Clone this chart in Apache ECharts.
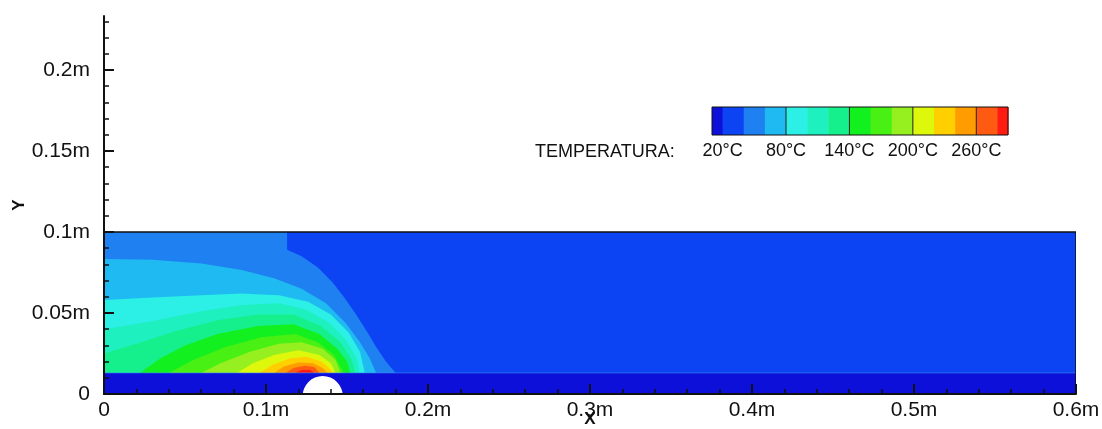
<!DOCTYPE html>
<html>
<head>
<meta charset="utf-8">
<script src="https://cdn.jsdelivr.net/npm/echarts@6/dist/echarts.min.js"></script>
<style>
  html, body { margin: 0; padding: 0; background: #fff; }
  #chart { width: 1102px; height: 429px; }
</style>
</head>
<body>
<div id="chart"></div>
<script>
// axis ticks (m)
const xTicks = [0, 0.1, 0.2, 0.3, 0.4, 0.5, 0.6]
const yTicks = [0, 0.05, 0.1, 0.15, 0.2]
const yMinorTicks = [0.01, 0.02, 0.03, 0.04, 0.06, 0.07, 0.08, 0.09, 0.11, 0.12, 0.13, 0.14,
  0.16, 0.17, 0.18, 0.19, 0.21, 0.22, 0.23]

// colour legend (°C)
const legendLabels = [20, 80, 140, 200, 260]
const legendEdges = [10, 20, 40, 60, 80, 100, 120, 140, 160, 180, 200, 220, 240, 260, 280, 290]
const legendColors = ['#0d10d8', '#0c44f4', '#1f80f2', '#1fbaf2', '#2cefe6', '#1ef0c0', '#16f08c',
  '#12f020', '#48f014', '#96f020', '#def80c', '#ffcf00', '#ff9c00', '#ff5a12', '#ff1a12']

// geometry (m)
const domain = [0, 0, 0.6, 0.1]
const stripTop = 0.013
const pipe = [0.135, -0.0013, 0.0124]

// contour lines, outer to inner
const cMedium = [[0, 0.1], [0.113, 0.1], [0.113, 0.089], [0.122, 0.085], [0.132, 0.078], [0.141, 0.069],
  [0.148, 0.06], [0.155, 0.05], [0.162, 0.039], [0.168, 0.029], [0.174, 0.02], [0.18, 0.013]]
const cSky = [[0, 0.0833], [0.03, 0.0828], [0.06, 0.0805], [0.085, 0.0765], [0.105, 0.0715], [0.122, 0.065],
  [0.137, 0.056], [0.149, 0.044], [0.158, 0.032], [0.164, 0.022], [0.168, 0.013]]
const cCyan = [[0, 0.058], [0.03, 0.0595], [0.06, 0.061], [0.085, 0.062], [0.108, 0.061], [0.126, 0.057],
  [0.14, 0.049], [0.151, 0.038], [0.158, 0.026], [0.161, 0.013]]
const cAqua = [[0, 0.04], [0.03, 0.045], [0.06, 0.051], [0.085, 0.055], [0.108, 0.056], [0.125, 0.052],
  [0.139, 0.044], [0.149, 0.034], [0.156, 0.022], [0.158, 0.013]]
const cSea = [[0, 0.025], [0.02, 0.031], [0.045, 0.039], [0.07, 0.0455], [0.095, 0.049], [0.117, 0.049],
  [0.134, 0.042], [0.146, 0.032], [0.153, 0.021], [0.155, 0.013]]
const cGreen = [[0.022, 0.013], [0.035, 0.022], [0.05, 0.03], [0.07, 0.037], [0.095, 0.042], [0.117, 0.043],
  [0.133, 0.037], [0.144, 0.028], [0.15, 0.02], [0.152, 0.013]]
const cLime = [[0.04, 0.013], [0.055, 0.021], [0.075, 0.029], [0.097, 0.035], [0.118, 0.037], [0.132, 0.032],
  [0.142, 0.024], [0.148, 0.013]]
const cYellowGreen = [[0.06, 0.013], [0.072, 0.019], [0.09, 0.026], [0.108, 0.031], [0.122, 0.032],
  [0.135, 0.028], [0.143, 0.021], [0.146, 0.013]]
const cYellow = [[0.082, 0.013], [0.092, 0.019], [0.105, 0.024], [0.12, 0.027], [0.133, 0.024],
  [0.14, 0.019], [0.143, 0.013]]
const cAmber = [[0.096, 0.013], [0.104, 0.018], [0.115, 0.022], [0.125, 0.023], [0.134, 0.02],
  [0.139, 0.016], [0.141, 0.013]]
const cOrange = [[0.105, 0.013], [0.111, 0.017], [0.12, 0.0195], [0.129, 0.019], [0.135, 0.016], [0.138, 0.013]]
const cRedOrange = [[0.112, 0.013], [0.117, 0.016], [0.124, 0.0175], [0.13, 0.0165], [0.133, 0.013]]
const cRed = [[0.118, 0.013], [0.122, 0.0148], [0.127, 0.0148], [0.13, 0.013]]

const bands = [
  [cMedium, 2], [cSky, 3], [cCyan, 4], [cAqua, 5], [cSea, 6], [cGreen, 7], [cLime, 8],
  [cYellowGreen, 9], [cYellow, 10], [cAmber, 11], [cOrange, 12], [cRedOrange, 13], [cRed, 14]
]

const FONT = 'Liberation Sans, Arial, sans-serif'
const chart = echarts.init(document.getElementById('chart'))

const tickStyle = { color: '#111', width: 2 }

const option = {
  backgroundColor: '#fff',
  animation: false,
  grid: [
    { left: 104, right: 26, top: 16, bottom: 35, outerBoundsMode: 'none', containLabel: false },
    { left: 712, top: 107, width: 296, height: 28, outerBoundsMode: 'none', containLabel: false }
  ],
  xAxis: [
    {
      type: 'value', min: 0, max: 0.6, interval: 0.1, z: 10,
      name: 'X', nameLocation: 'middle', nameGap: 17, nameMoveOverlap: false,
      nameTextStyle: { fontFamily: FONT, fontSize: 17, fontWeight: 'bold', color: '#111' },
      axisLine: { lineStyle: tickStyle },
      axisTick: { inside: true, length: 10, lineStyle: tickStyle },
      minorTick: { show: true, splitNumber: 5, length: 5, lineStyle: { color: '#111', width: 1.5 } },
      splitLine: { show: false },
      axisLabel: {
        fontFamily: FONT, fontSize: 21, color: '#111', margin: 6,
        customValues: xTicks,
        formatter: v => (v === 0 ? '0' : v + 'm')
      }
    },
    {
      type: 'value', gridIndex: 1, min: legendEdges[0], max: legendEdges[legendEdges.length - 1],
      axisLine: { show: false }, axisTick: { show: false }, splitLine: { show: false },
      axisLabel: {
        fontFamily: FONT, fontSize: 18, color: '#111', margin: 7,
        customValues: legendLabels,
        formatter: '{value}°C'
      }
    }
  ],
  yAxis: [
    {
      type: 'value', min: 0, max: 0.2333, z: 10,
      name: 'Y', nameLocation: 'middle', nameGap: 76, nameMoveOverlap: false,
      nameTextStyle: { fontFamily: FONT, fontSize: 17, fontWeight: 'bold', color: '#111' },
      axisLine: { lineStyle: tickStyle },
      axisTick: { inside: true, length: 10, lineStyle: tickStyle, customValues: yTicks },
      splitLine: { show: false },
      axisLabel: {
        fontFamily: FONT, fontSize: 21, color: '#111', margin: 14,
        customValues: yTicks,
        formatter: v => (v === 0 ? '0' : v + 'm')
      }
    },
    {
      type: 'value', min: 0, max: 0.2333, z: 10, position: 'left',
      axisLine: { show: false },
      axisTick: { inside: true, length: 5, lineStyle: { color: '#111', width: 1.5 }, customValues: yMinorTicks },
      axisLabel: { show: false },
      splitLine: { show: false }
    },
    { type: 'value', gridIndex: 1, min: 0, max: 1, show: false }
  ],
  graphic: [
    {
      type: 'text', left: 535, top: 143,
      style: { text: 'TEMPERATURA:', font: '18px ' + FONT, fill: '#111' }
    }
  ],
  series: [
    {
      // computational domain background
      type: 'custom', xAxisIndex: 0, yAxisIndex: 0, z: 2, clip: true,
      data: [domain],
      renderItem: (params, api) => {
        const a = api.coord([domain[0], domain[3]])
        const b = api.coord([domain[2], domain[1]])
        return {
          type: 'rect',
          shape: { x: a[0], y: a[1], width: b[0] - a[0], height: b[1] - a[1] },
          style: { fill: legendColors[1] }
        }
      }
    },
    {
      // temperature bands
      type: 'custom', xAxisIndex: 0, yAxisIndex: 0, z: 3, clip: true,
      data: bands.map((b, i) => [i]),
      renderItem: (params, api) => {
        const [pts, ci] = bands[params.dataIndex]
        const poly = pts.concat([[pts[pts.length - 1][0], stripTop], [pts[0][0], stripTop]])
        return {
          type: 'polygon',
          shape: { points: poly.map(p => api.coord(p)) },
          style: { fill: legendColors[ci] }
        }
      }
    },
    {
      // lower strip, pipe and outline
      type: 'custom', xAxisIndex: 0, yAxisIndex: 0, z: 4, clip: true,
      data: [[0]],
      renderItem: (params, api) => {
        const s0 = api.coord([domain[0], stripTop])
        const s1 = api.coord([domain[2], domain[1]])
        const top = api.coord([domain[0], domain[3]])
        const pc = api.coord([pipe[0], pipe[1]])
        const r = api.size([pipe[2], 0])[0]
        return {
          type: 'group',
          children: [
            { type: 'rect', shape: { x: s0[0], y: s0[1], width: s1[0] - s0[0], height: s1[1] - s0[1] },
              style: { fill: legendColors[0] } },
            { type: 'line', shape: { x1: s0[0], y1: s0[1], x2: s1[0], y2: s0[1] },
              style: { stroke: '#3a8cf0', lineWidth: 1, opacity: 0.6 } },
            { type: 'circle', shape: { cx: pc[0], cy: pc[1], r: r }, style: { fill: '#fff' } },
            { type: 'rect', shape: { x: top[0], y: top[1], width: s1[0] - top[0], height: s1[1] - top[1] },
              style: { fill: null, stroke: '#111', lineWidth: 1.5 } }
          ]
        }
      }
    },
    {
      // colour legend
      type: 'custom', xAxisIndex: 1, yAxisIndex: 2, z: 5,
      data: legendColors.map((c, i) => [legendEdges[i], legendEdges[i + 1], i]),
      renderItem: (params, api) => {
        const lo = api.value(0), hi = api.value(1)
        const a = api.coord([lo, 1])
        const b = api.coord([hi, 0])
        const children = [
          { type: 'rect', shape: { x: a[0], y: a[1], width: b[0] - a[0] + 0.5, height: b[1] - a[1] },
            style: { fill: legendColors[api.value(2)] } }
        ]
        if (legendLabels.indexOf(lo) >= 0 && lo !== legendLabels[0]) {
          children.push({ type: 'line', shape: { x1: a[0], y1: a[1], x2: a[0], y2: b[1] },
            style: { stroke: '#222', lineWidth: 1 } })
        }
        return { type: 'group', children }
      }
    },
    {
      // legend outline
      type: 'custom', xAxisIndex: 1, yAxisIndex: 2, z: 6,
      data: [[legendEdges[0], legendEdges[legendEdges.length - 1]]],
      renderItem: (params, api) => {
        const a = api.coord([api.value(0), 1])
        const b = api.coord([api.value(1), 0])
        return {
          type: 'rect',
          shape: { x: a[0], y: a[1], width: b[0] - a[0], height: b[1] - a[1] },
          style: { fill: null, stroke: '#111', lineWidth: 1 }
        }
      }
    }
  ]
}

chart.setOption(option)
</script>
</body>
</html>
